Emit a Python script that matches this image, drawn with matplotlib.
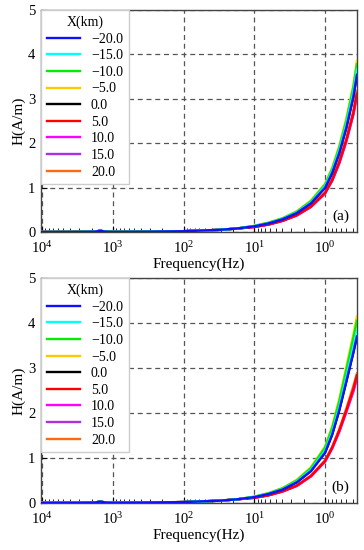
import matplotlib
matplotlib.use("Agg")
import matplotlib.pyplot as plt
import numpy as np
from matplotlib.ticker import LogLocator, NullFormatter

plt.rcParams['font.family'] = ['Liberation Serif', 'DejaVu Serif']
plt.rcParams['mathtext.fontset'] = 'stix'

# log10 of frequency (Hz)
log_freq = [4.0, 3.5, 3.25, 3.18, 3.1, 3.0, 2.5, 2.0, 1.5, 1.25,
            1.0, 0.8, 0.6, 0.4, 0.2, 0.0, -0.1, -0.2, -0.3, -0.4, -0.45]

labels = ['\u221220.0', '\u221215.0', '\u221210.0', '\u22125.0', '0.0', '5.0', '10.0', '15.0', '20.0']
colors = ['#1010ff', '#00ffff', '#00ee00', '#ffc800', '#000000', '#ff0000', '#ff00ff', '#b030e0', '#ff6a10']

# high-frequency part (curves coincide)
low = [0.003, 0.005, 0.01, 0.03, 0.01, 0.005, 0.01, 0.02, 0.05, 0.08]

# panel (a)
a_m20 = low + [0.13, 0.195, 0.29, 0.43, 0.65, 1.00, 1.33, 1.78, 2.35, 3.05, 3.54]
a_m15 = low + [0.135, 0.20, 0.30, 0.445, 0.67, 1.035, 1.375, 1.84, 2.43, 3.15, 3.66]
a_m10 = low + [0.14, 0.21, 0.31, 0.46, 0.695, 1.07, 1.42, 1.90, 2.51, 3.26, 3.78]
a_m5  = low + [0.14, 0.215, 0.315, 0.47, 0.71, 1.09, 1.45, 1.94, 2.56, 3.32, 3.86]
a_0   = low + [0.13, 0.195, 0.29, 0.43, 0.65, 1.00, 1.33, 1.78, 2.35, 3.05, 3.54]
a_5   = low + [0.115, 0.17, 0.255, 0.38, 0.575, 0.88, 1.17, 1.57, 2.07, 2.69, 3.12]
a_10  = low + [0.115, 0.17, 0.25, 0.375, 0.565, 0.87, 1.155, 1.545, 2.04, 2.645, 3.07]
a_15  = low + [0.115, 0.17, 0.255, 0.375, 0.57, 0.875, 1.16, 1.555, 2.05, 2.66, 3.09]
a_20  = low + [0.12, 0.175, 0.26, 0.385, 0.585, 0.90, 1.195, 1.60, 2.11, 2.74, 3.18]

# panel (b)
b_m20 = low + [0.13, 0.20, 0.30, 0.46, 0.71, 1.12, 1.52, 2.06, 2.70, 3.35, 3.70]
b_m15 = low + [0.135, 0.205, 0.31, 0.475, 0.735, 1.16, 1.57, 2.13, 2.79, 3.46, 3.82]
b_m10 = low + [0.14, 0.215, 0.325, 0.50, 0.775, 1.23, 1.665, 2.255, 2.96, 3.67, 4.05]
b_m5  = low + [0.14, 0.22, 0.335, 0.515, 0.795, 1.255, 1.70, 2.31, 3.02, 3.75, 4.15]
b_0   = low + [0.13, 0.20, 0.30, 0.46, 0.71, 1.12, 1.52, 2.06, 2.70, 3.35, 3.70]
b_5   = low + [0.115, 0.17, 0.26, 0.385, 0.60, 0.935, 1.23, 1.61, 2.06, 2.54, 2.84]
b_10  = low + [0.115, 0.17, 0.255, 0.38, 0.59, 0.92, 1.21, 1.58, 2.02, 2.48, 2.77]
b_15  = low + [0.115, 0.17, 0.255, 0.38, 0.595, 0.925, 1.22, 1.59, 2.03, 2.50, 2.79]
b_20  = low + [0.12, 0.175, 0.265, 0.39, 0.61, 0.95, 1.25, 1.64, 2.10, 2.60, 2.88]

panel_a = [a_m20, a_m15, a_m10, a_m5, a_0, a_5, a_10, a_15, a_20]
panel_b = [b_m20, b_m15, b_m10, b_m5, b_0, b_5, b_10, b_15, b_20]

freq = 10.0 ** np.array(log_freq)

fig = plt.figure(figsize=(3.64, 5.5), dpi=100)
ax1 = fig.add_axes([0.1126, 0.578, 0.868, 0.4038])
ax2 = fig.add_axes([0.1126, 0.0855, 0.868, 0.409])

for ax, data, tag in [(ax1, panel_a, '(a)'), (ax2, panel_b, '(b)')]:
    n = len(data)
    for i, (vals, c, lab) in enumerate(zip(data, colors, labels)):
        ax.plot(freq, vals, color=c, lw=1.7, label=lab, zorder=3 + (n - i) * 0.1,
                solid_joinstyle='round')
    ax.set_xscale('log')
    ax.set_xlim(10 ** 4.015, 10 ** -0.45)
    ax.set_ylim(0, 5)
    ax.set_yticks([0, 1, 2, 3, 4, 5])
    ax.xaxis.set_major_locator(LogLocator(base=10, numticks=10))
    ax.xaxis.set_minor_locator(LogLocator(base=10, subs=np.arange(2, 10), numticks=20))
    ax.xaxis.set_minor_formatter(NullFormatter())
    ax.tick_params(direction='in', which='both', labelsize=10.5, top=False, right=False)
    ax.tick_params(axis='x', which='major', length=4, pad=6)
    ax.tick_params(axis='y', which='major', length=4, pad=4)
    ax.tick_params(which='minor', length=3)
    ax.grid(True, which='major', linestyle=(0, (4, 3)), color='#555555', lw=0.9)
    for sp in ax.spines.values():
        sp.set_color('#444444')
        sp.set_linewidth(1.0)
    ax.set_xlabel('Frequency(Hz)', fontsize=11, labelpad=1)
    ax.set_ylabel('H(A/m)', fontsize=11, labelpad=2)
    ax.text(0.975, 0.04, tag, transform=ax.transAxes, ha='right', va='bottom', fontsize=11)
    leg = ax.legend(loc='upper left', title='X(km)', fontsize=10, title_fontsize=10,
                    borderaxespad=0.0, handlelength=2.4, labelspacing=0.26,
                    framealpha=1, fancybox=False, edgecolor='#cccccc',
                    borderpad=0.4, handletextpad=0.8)
    leg.set_zorder(10)

fig.savefig('out.png', dpi=100)
